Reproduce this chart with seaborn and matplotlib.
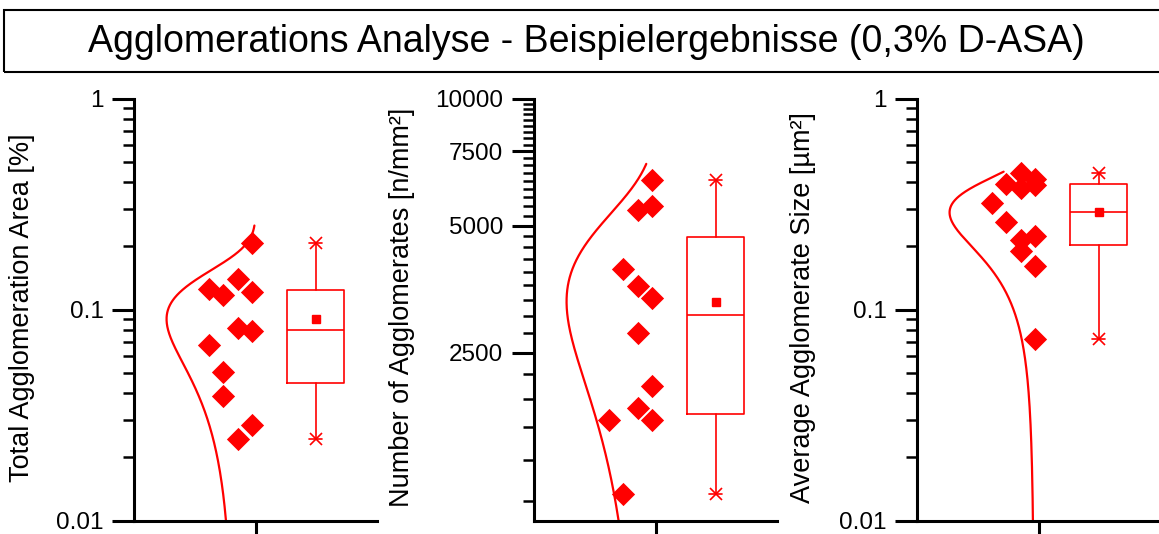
import numpy as np
import matplotlib
matplotlib.use("Agg")
import matplotlib.pyplot as plt
import matplotlib.ticker as mticker
from matplotlib.patches import Rectangle
import seaborn as sns

# values (12 samples per measure)
area = [0.2065, 0.140, 0.1255, 0.121, 0.1167, 0.0816, 0.0787, 0.0681, 0.0508, 0.0388, 0.0282, 0.0244]
count = [6396, 5561, 5447, 3947, 3590, 3362, 2780, 2084, 1852, 1731, 1731, 1153]
size = [0.442, 0.416, 0.394, 0.389, 0.378, 0.321, 0.259, 0.224, 0.213, 0.19, 0.1605, 0.0722]

# column slot of each point beside the box (0 = closest to the centre)
area_slot = [0, 1, 3, 0, 2, 1, 0, 3, 2, 2, 0, 1]
count_slot = [0, 0, 1, 2, 1, 0, 1, 0, 1, 3, 0, 2]
size_slot = [1, 0, 2, 0, 1, 3, 2, 0, 1, 1, 0, 0]

labels = ["Total Agglomeration Area [%]", "Number of Agglomerates [n/mm²]", "Average Agglomerate Size [µm²]"]
bin_width = [0.05, 1000, 0.05]
title = "Agglomerations Analyse - Beispielergebnisse (0,3% D-ASA)"

sns.set_style("ticks")
plt.rcParams["font.family"] = ["Liberation Sans", "DejaVu Sans"]
plt.rcParams["text.color"] = "black"
plt.rcParams["axes.labelcolor"] = "black"

W, H = 1159, 534
fig = plt.figure(figsize=(W / 100, H / 100), dpi=100)

# title box
fig.add_artist(Rectangle((4 / W, 1 - 72 / H), 1.2, 62 / H, transform=fig.transFigure,
                         fill=False, ec="black", lw=1.5))
fig.text(0.506, 1 - 42 / H, title, ha="center", va="center", fontsize=27)

lefts = [134, 534, 917]
label_x = [-0.461, -0.543, -0.471]
red = "#ff0000"

for i, (vals, slots) in enumerate([(area, area_slot), (count, count_slot), (size, size_slot)]):
    ax = fig.add_axes([lefts[i] / W, 1 - 520.5 / H, 243 / W, 422 / H])
    vals = np.array(vals, dtype=float)
    ax.set_yscale("log")
    ax.set_xlim(-0.5, 0.5)

    # points beside the box
    xs = -0.014 - 0.059 * np.array(slots)
    sns.scatterplot(x=xs, y=vals, marker="D", s=140, color=red, linewidth=0, ax=ax, legend=False)

    # normal distribution curve from mean/sd
    mu, sd = vals.mean(), vals.std(ddof=1)
    top = np.ceil(vals.max() / bin_width[i]) * bin_width[i]
    yy = np.linspace(top / 600, top, 600)
    xx = -0.366 * np.exp(-0.5 * ((yy - mu) / sd) ** 2)
    sns.lineplot(x=xx, y=yy, sort=False, color=red, lw=1.6, ax=ax)

    # box: 25/75 percentiles, whiskers to min/max
    stats = [dict(med=np.median(vals),
                  q1=np.percentile(vals, 25, method="midpoint"),
                  q3=np.percentile(vals, 75, method="midpoint"),
                  whislo=vals.min(), whishi=vals.max(), mean=vals.mean(), fliers=[])]
    ax.bxp(stats, positions=[0.247], widths=0.235, showmeans=True, capwidths=0.05,
           boxprops=dict(color=red, lw=1.2), medianprops=dict(color=red, lw=1.2),
           whiskerprops=dict(color=red, lw=1.2), capprops=dict(color=red, lw=1.2),
           meanprops=dict(marker="s", markerfacecolor=red, markeredgecolor=red, markersize=5.5))
    ax.plot([0.247, 0.247], [vals.min(), vals.max()], ls="none", marker="x", ms=8, mew=1.2, color=red)

    if i == 1:
        ax.set_ylim(1000, 10000)
        major = [2500, 5000, 7500, 10000]
        minor = [k * 2500 / 9 for k in range(4, 37) if k % 9 != 0]
        ax.yaxis.set_major_locator(mticker.FixedLocator(major))
        ax.yaxis.set_minor_locator(mticker.FixedLocator(minor))
    else:
        ax.set_ylim(0.01, 1)
        ax.yaxis.set_major_locator(mticker.LogLocator(base=10, numticks=5))
        ax.yaxis.set_minor_locator(mticker.LogLocator(base=10, subs=np.arange(2, 10), numticks=20))
    ax.yaxis.set_major_formatter(mticker.FuncFormatter(lambda v, p: "%g" % v))
    ax.yaxis.set_minor_formatter(mticker.NullFormatter())

    ax.set_xticks([0])
    ax.set_xticklabels([""])
    ax.tick_params(axis="both", which="major", direction="out", length=16, width=2.2,
                   labelsize=17.5, pad=6, colors="black")
    ax.tick_params(axis="y", which="minor", direction="out", length=8, width=1.8, colors="black")
    sns.despine(ax=ax)
    for s in ["left", "bottom"]:
        ax.spines[s].set_linewidth(2.2)
        ax.spines[s].set_color("black")
    ax.set_ylabel(labels[i], fontsize=19.5, va="center")
    ax.yaxis.set_label_coords(label_x[i], 0.505)
    ax.set_xlabel("")
    ax.set_facecolor("white")

fig.savefig("out.png", dpi=100, facecolor="white")
